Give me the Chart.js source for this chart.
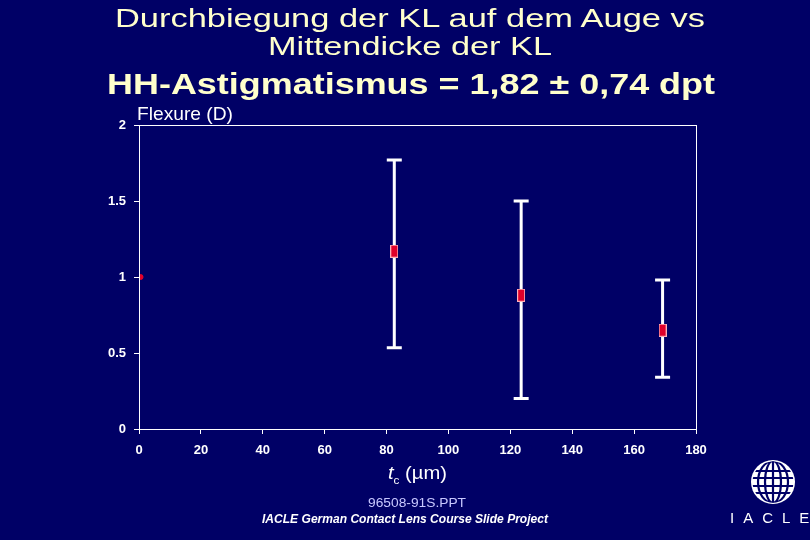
<!DOCTYPE html>
<html>
<head>
<meta charset="utf-8">
<script src="https://cdn.jsdelivr.net/npm/chart.js@4"></script>
<style>
  html, body { margin: 0; padding: 0; background: #000066; }
  #wrap { position: relative; width: 810px; height: 540px; overflow: hidden; font-family: "Liberation Sans", Arial, sans-serif; }
  #chart { position: absolute; left: 0; top: 0; }
  .txt { position: absolute; white-space: nowrap; transform-origin: 0 0; }
  .fit { line-height: 1; }
</style>
</head>
<body>
<div id="wrap">
  <canvas id="chart" width="810" height="540"></canvas>
  <div class="txt fit" data-l="115" data-w="590" style="top:5px; font-size:26.5px; color:#FFFFCC;">Durchbiegung der KL auf dem Auge vs</div>
  <div class="txt fit" data-l="268" data-w="284" style="top:33px; font-size:26.5px; color:#FFFFCC;">Mittendicke der KL</div>
  <div class="txt fit" data-l="107" data-w="608" style="top:69px; font-size:30px; font-weight:bold; color:#FFFFCC;">HH-Astigmatismus = 1,82 ± 0,74 dpt</div>
  <div class="txt fit" data-l="137" data-w="96" style="top:104px; font-size:19px; color:#FFFFFF;">Flexure (D)</div>
  <div class="txt fit" data-l="388" data-w="59" style="top:463px; font-size:19px; color:#FFFFFF;"><i>t</i><sub style="font-size:11px;">c</sub> (µm)</div>
  <div class="txt fit" data-l="368" data-w="98" style="top:497px; font-size:12px; color:#C8C8FF;">96508-91S.PPT</div>
  <div class="txt fit" data-l="262" data-w="286" style="top:513px; font-size:12px; color:#FFFFFF; font-weight:bold; font-style:italic;">IACLE German Contact Lens Course Slide Project</div>
  <svg class="txt" style="left:748px; top:458px;" width="50" height="50" viewBox="0 0 50 50">
    <defs><clipPath id="g"><circle cx="25" cy="24" r="20.5"/></clipPath></defs>
    <circle cx="25" cy="24" r="22" fill="#FFFFFF"/>
    <g clip-path="url(#g)" stroke="#000066" stroke-width="2.2" fill="none">
      <line x1="0" y1="13" x2="50" y2="13"/>
      <line x1="0" y1="20" x2="50" y2="20"/>
      <line x1="0" y1="28" x2="50" y2="28"/>
      <line x1="0" y1="35" x2="50" y2="35"/>
      <line x1="25" y1="0" x2="25" y2="50"/>
      <ellipse cx="25" cy="24" rx="8" ry="21"/>
      <ellipse cx="25" cy="24" rx="15" ry="21"/>
    </g>
  </svg>
  <div class="txt" style="left:730px; top:509px; font-size:15px; color:#FFFFFF; letter-spacing:9px;">IACLE</div>
</div>
<script>
// values
const thickness = [82.5, 123.5, 169.2];
const flexureMean = [1.17, 0.88, 0.65];
const flexureLow = [0.535, 0.2, 0.34];
const flexureHigh = [1.77, 1.5, 0.98];
const refPoint = [{ x: 0.5, y: 1 }];
const xTicks = [0, 20, 40, 60, 80, 100, 120, 140, 160, 180];
const yTicks = [0, 0.5, 1, 1.5, 2];

// stretch the slide texts to their widths on the slide
document.querySelectorAll(".fit").forEach((el) => {
  el.style.left = el.dataset.l + "px";
  const w = el.getBoundingClientRect().width;
  el.style.transform = "scaleX(" + (el.dataset.w / w) + ")";
});

// small red box used as the point marker
const marker = document.createElement("canvas");
marker.width = 8;
marker.height = 13;
const mctx = marker.getContext("2d");
mctx.fillStyle = "#FFB0B8";
mctx.fillRect(0, 0, 8, 13);
mctx.fillStyle = "#E0002A";
mctx.fillRect(1, 1, 6, 11);

const errorBars = {
  id: "errorBars",
  beforeDatasetsDraw(chart) {
    const { ctx, scales } = chart;
    const x = scales.x, y = scales.y;
    ctx.save();
    ctx.strokeStyle = "#FFFFFF";
    ctx.lineWidth = 3;
    thickness.forEach((t, i) => {
      const px = x.getPixelForValue(t);
      const top = y.getPixelForValue(flexureHigh[i]);
      const bot = y.getPixelForValue(flexureLow[i]);
      ctx.beginPath();
      ctx.moveTo(px, top);
      ctx.lineTo(px, bot);
      ctx.moveTo(px - 7.5, top);
      ctx.lineTo(px + 7.5, top);
      ctx.moveTo(px - 7.5, bot);
      ctx.lineTo(px + 7.5, bot);
      ctx.stroke();
    });
    ctx.restore();
  },
  afterDraw(chart) {
    const a = chart.chartArea;
    const ctx = chart.ctx;
    ctx.save();
    ctx.strokeStyle = "#FFFFFF";
    ctx.lineWidth = 1;
    ctx.strokeRect(Math.round(a.left) + 0.5, Math.round(a.top) + 0.5, a.right - a.left, a.bottom - a.top);
    ctx.restore();
  }
};

const tickFont = { family: "Liberation Sans, Arial", size: 13, weight: "bold" };

new Chart(document.getElementById("chart"), {
  type: "scatter",
  data: {
    datasets: [
      {
        data: thickness.map((t, i) => ({ x: t, y: flexureMean[i] })),
        pointStyle: marker,
        pointRadius: 6
      },
      {
        data: refPoint,
        pointStyle: "circle",
        pointRadius: 2.5,
        backgroundColor: "#E0002A",
        borderColor: "#E0002A"
      }
    ]
  },
  options: {
    responsive: false,
    animation: false,
    layout: { padding: { left: 0, top: 125, right: 114, bottom: 71 } },
    plugins: { legend: { display: false }, tooltip: { enabled: false } },
    scales: {
      x: {
        type: "linear",
        min: 0,
        max: 180,
        afterBuildTicks: (s) => { s.ticks = xTicks.map((v) => ({ value: v })); },
        afterFit: (s) => { s.height = 40; },
        grid: { drawOnChartArea: false, drawTicks: true, tickLength: 5, color: "#FFFFFF" },
        border: { color: "#FFFFFF" },
        ticks: { color: "#FFFFFF", font: tickFont, padding: 9, maxRotation: 0 }
      },
      y: {
        type: "linear",
        min: 0,
        max: 2,
        afterBuildTicks: (s) => { s.ticks = yTicks.map((v) => ({ value: v })); },
        afterFit: (s) => { s.width = 139; },
        grid: { drawOnChartArea: false, drawTicks: true, tickLength: 5, color: "#FFFFFF" },
        border: { color: "#FFFFFF" },
        ticks: { color: "#FFFFFF", font: tickFont, padding: 8, callback: (v) => String(v) }
      }
    }
  },
  plugins: [errorBars]
});
</script>
</body>
</html>
